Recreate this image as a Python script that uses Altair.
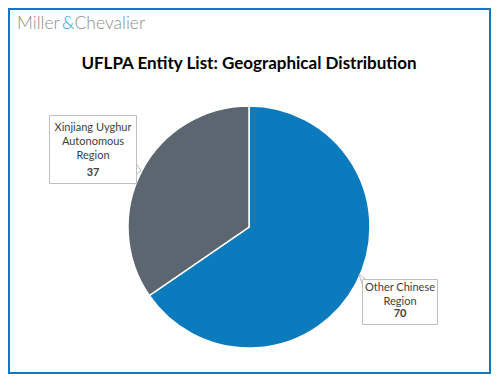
import altair as alt
import pandas as pd

categories = ["Other Chinese Region", "Xinjiang Uyghur Autonomous Region"]
values = [70, 37]
label_lines = ["Other Chinese\nRegion", "Xinjiang Uyghur\nAutonomous\nRegion"]
colors = ["#0B7BBE", "#5B6670"]
title_text = "UFLPA Entity List: Geographical Distribution"
logo_parts = ["Miller", "&", "Chevalier"]

df = pd.DataFrame({
    "category": categories,
    "value": values,
    "label": label_lines,
    "ord": list(range(len(categories))),
})

OX, OY = 8, 8  # page margin offset
W, H = 483, 366
FONT = "Lato"
TXT = "#404040"
BOX = "#BFBFBF"
BLUE = "#0A7BC2"

base = alt.Chart(df)

pie = base.mark_arc(radius=121, stroke="white", strokeWidth=1.5).encode(
    theta=alt.Theta("value:Q", stack=True),
    color=alt.Color("category:N", scale=alt.Scale(domain=categories, range=colors), legend=None),
    order=alt.Order("ord:Q"),
    x=alt.value(249 - OX),
    y=alt.value(227 - OY),
)

def box(x1, y1, x2, y2):
    return alt.Chart(df).transform_filter("datum.ord == 0").mark_rect(
        fill="white", stroke=BOX, strokeWidth=1
    ).encode(
        x=alt.value(x1 - OX), x2=alt.value(x2 - OX),
        y=alt.value(y1 - OY), y2=alt.value(y2 - OY),
    )

def seg(x1, y1, x2, y2, color=BOX):
    return alt.Chart(df).transform_filter("datum.ord == 0").mark_rule(
        stroke=color, strokeWidth=1
    ).encode(
        x=alt.value(x1 - OX), x2=alt.value(x2 - OX),
        y=alt.value(y1 - OY), y2=alt.value(y2 - OY),
    )

def names(idx, cx, y):
    return base.transform_filter(f"datum.ord == {idx}").mark_text(
        font=FONT, fontSize=11, color=TXT, align="center", baseline="alphabetic",
        lineBreak="\n", lineHeight=14.3,
    ).encode(text="label:N", x=alt.value(cx - OX), y=alt.value(y - OY))

def val(idx, cx, y):
    return base.transform_filter(f"datum.ord == {idx}").mark_text(
        font=FONT, fontSize=11, fontWeight="bold", color=TXT, align="center", baseline="alphabetic",
    ).encode(text="value:Q", x=alt.value(cx - OX), y=alt.value(y - OY))

# Xinjiang callout
xj_box = box(49.5, 115.5, 136.5, 183.5)
xj_p1 = seg(136.5, 164, 141, 171)
xj_p2 = seg(141, 171, 136.5, 174)
xj_n = names(1, 93, 130.5)
xj_v = val(1, 93, 176)

# Other callout
oc_box = box(362.5, 279.5, 437.5, 324.5)
oc_p1 = seg(366, 279.5, 359, 274)
oc_p2 = seg(359, 274, 362.5, 285)
oc_n = names(0, 400, 290.5)
oc_v = val(0, 400, 316.5)

title = base.transform_filter("datum.ord == 0").mark_text(
    font=FONT, fontSize=17, fontWeight="bold", color="#000000", align="center", baseline="alphabetic",
    text=title_text,
).encode(x=alt.value(249 - OX), y=alt.value(68.5 - OY))

def logo(i, x, color):
    return base.transform_filter("datum.ord == 0").mark_text(
        font=FONT, fontSize=17.5, fontWeight=300, color=color, align="left", baseline="alphabetic",
        text=logo_parts[i],
    ).encode(x=alt.value(x - OX), y=alt.value(29 - OY))

logo_m = logo(0, 17, "#8B8E91")
logo_a = logo(1, 62, "#2A9FD8")
logo_c = logo(2, 74.5, "#8B8E91")

frame = alt.Chart(df).transform_filter("datum.ord == 0").mark_rect(
    fill=None, stroke=BLUE, strokeWidth=2
).encode(
    x=alt.value(1), x2=alt.value(W - 1),
    y=alt.value(1), y2=alt.value(H - 1),
)

chart = alt.layer(
    pie, xj_box, xj_p1, xj_p2, xj_n, xj_v, oc_box, oc_p1, oc_p2, oc_n, oc_v,
    title, logo_m, logo_a, logo_c, frame,
).properties(
    width=W, height=H, padding=0,
    autosize=alt.AutoSizeParams(type="none"),
    background="white",
).configure_view(stroke=None)

chart.save("out.html", embed_options={"renderer": "svg", "actions": False})
